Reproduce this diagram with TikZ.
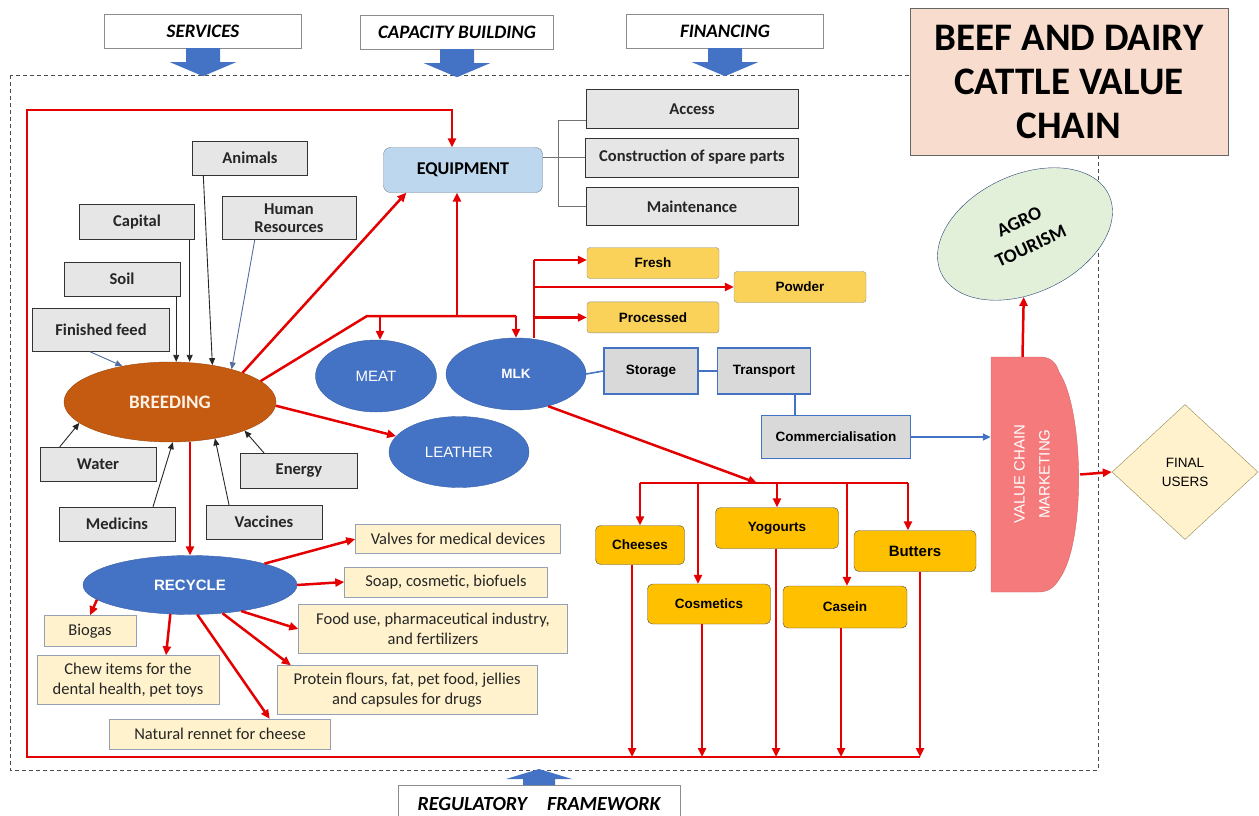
\documentclass[tikz,border=0pt]{standalone}
\usepackage{fontspec}
\setmainfont{Carlito}
\newfontfamily\arialfont{Liberation Sans}
\usetikzlibrary{arrows.meta,positioning,shapes.geometric,calc}

\definecolor{flowred}{RGB}{228,0,0}
\definecolor{ellblue}{RGB}{68,114,196}
\definecolor{breedbrown}{RGB}{197,90,17}
\definecolor{inputgray}{RGB}{231,230,230}
\definecolor{paleyellow}{RGB}{255,242,204}
\definecolor{recborder}{RGB}{150,160,180}
\definecolor{dairygold}{RGB}{255,192,0}
\definecolor{milkgold}{RGB}{250,210,90}
\definecolor{titlepink}{RGB}{248,221,207}
\definecolor{vcmred}{RGB}{244,122,124}
\definecolor{agrogreen}{RGB}{226,239,217}
\definecolor{equipblue}{RGB}{189,215,238}
\definecolor{feedblue}{RGB}{84,110,160}

\begin{document}
\begin{tikzpicture}[x=1pt, y=-1pt,
  hdr/.style={draw=black!45, fill=white, minimum width=197, minimum height=34,
    inner sep=0pt, font=\fontsize{19}{21}\selectfont\bfseries\itshape},
  inbox/.style={draw=black!80, fill=inputgray, minimum height=34, inner sep=1pt,
    align=center, text=black!85, font=\fontsize{16.5}{18}\selectfont\bfseries},
  recbox/.style={draw=recborder, fill=paleyellow, inner sep=1pt, align=center,
    text=black!85, font=\fontsize{16.5}{19.5}\selectfont},
  milkprod/.style={draw=black!45, fill=milkgold, rounded corners=3pt,
    minimum width=132, minimum height=31, inner sep=1pt,
    font=\arialfont\fontsize{13.5}{16}\selectfont\bfseries},
  dairy/.style={draw=black!70, fill=dairygold, rounded corners=5pt, inner sep=1pt,
    font=\arialfont\fontsize{13.5}{16}\selectfont\bfseries},
  chainbox/.style={draw=ellblue, line width=1.6pt, fill=black!15, minimum height=46,
    inner sep=1pt, font=\arialfont\fontsize{13.5}{16}\selectfont\bfseries},
  blob/.style={ellipse, fill=ellblue, draw=ellblue!85!black, inner sep=0pt,
    text=white, font=\arialfont\fontsize{15}{18}\selectfont},
  flow/.style={draw=flowred, line width=2.5pt, -{Triangle[length=9pt,width=8pt]}},
  flowline/.style={draw=flowred, line width=2.5pt},
  feed/.style={draw=black!85, line width=0.9pt, -{Triangle[length=7pt,width=6pt]}},
  feedb/.style={feed, draw=feedblue},
  bracket/.style={draw=black!55, line width=0.8pt},
  chain/.style={draw=ellblue, line width=1.6pt},
  frame/.style={draw=black!70, line width=0.8pt, dash pattern=on 4pt off 3pt}
]
\useasboundingbox (0,0) rectangle (1259,816);

% outer frame and support headers
\draw[frame] (10,75) rectangle (1098,770);
\node[hdr] (services) at (203,31) {SERVICES};
\node[hdr, minimum width=193] (capacity) at (457,32) {CAPACITY BUILDING};
\node[hdr] (financing) at (725,31) {FINANCING};
\foreach \hd in {services,capacity,financing}
  \fill[ellblue] ($(\hd.south)+(-17,0)$) -- ++(0,14) -- ++(-16,0)
    -- ($(\hd.south)+(0,28)$) -- ($(\hd.south)+(33,14)$) -- ++(-16,0)
    -- ($(\hd.south)+(17,0)$) -- cycle;

\node[hdr, minimum width=282, minimum height=38, anchor=north,
  font=\fontsize{20}{22}\selectfont\bfseries\itshape] (regulatory) at (539,785)
  {REGULATORY\quad FRAMEWORK};
\fill[ellblue] ($(regulatory.north)+(-16,0)$) -- ++(0,-6) -- ++(-17,0)
  -- ($(regulatory.north)+(0,-16)$) -- ($(regulatory.north)+(33,-6)$) -- ++(-17,0)
  -- ($(regulatory.north)+(16,0)$) -- cycle;

\node[draw=black!60, fill=titlepink, minimum width=318, minimum height=147, align=center,
  font=\fontsize{39}{44}\selectfont\bfseries] (title) at (1069,81.5)
  {BEEF AND DAIRY\\CATTLE VALUE\\CHAIN};

% inputs of breeding
\node[inbox, minimum width=115] (animals) at (250,158) {Animals};
\node[inbox, minimum width=115, minimum height=35] (capital) at (137,222) {Capital};
\node[inbox, minimum width=134, minimum height=43] (humanres) at (289,218) {Human\\Resources};
\node[inbox, minimum width=116] (soil) at (122,279) {Soil};
\node[inbox, minimum width=137, minimum height=43] (feedbox) at (101,330) {Finished feed};
\node[inbox, minimum width=116] (water) at (98,464) {Water};
\node[inbox, minimum width=116] (medicins) at (117,524) {Medicins};
\node[inbox, minimum width=116] (vaccines) at (264,522) {Vaccines};
\node[inbox, minimum width=117, minimum height=35] (energy) at (299,471) {Energy};

\node[ellipse, fill=breedbrown, draw=breedbrown!80!black, minimum width=212,
  minimum height=80, inner sep=0pt, text=orange!10,
  font=\fontsize{19}{22}\selectfont\bfseries] (breeding) at (170,402) {BREEDING};

% equipment
\node[draw=black!40!equipblue, fill=equipblue, rounded corners=7pt, minimum width=159,
  minimum height=45, font=\fontsize{18}{20}\selectfont\bfseries] (equip) at (463,170) {EQUIPMENT};
\node[inbox, minimum width=212, minimum height=39] (access) at (692,109) {Access};
\node[inbox, minimum width=213, minimum height=39, below=9pt of access] (constr) {Construction of spare parts};
\node[inbox, minimum width=212, minimum height=38, below=10pt of constr] (maint) {Maintenance};

% products
\node[blob, minimum width=121, minimum height=72] (meat) at (376,376) {MEAT};
\node[blob, minimum width=140, minimum height=72,
  font=\arialfont\fontsize{13.5}{16}\selectfont\bfseries] (mlk) at (516,374) {MLK};
\node[blob, minimum width=140, minimum height=71] (leather) at (459,452) {LEATHER};

\node[milkprod] (fresh) at (653,263) {Fresh};
\node[milkprod] (powder) at (800,287) {Powder};
\node[milkprod, below=23pt of fresh] (processed) {Processed};

\node[chainbox, minimum width=94] (storage) at (651,371) {Storage};
\node[chainbox, minimum width=93, right=18pt of storage] (transport) {Transport};
\node[chainbox, minimum width=149, minimum height=43] (comm) at (836,437) {Commercialisation};

\node[dairy, minimum width=89, minimum height=39] (cheeses) at (640,545) {Cheeses};
\node[dairy, minimum width=123, minimum height=41] (yogourts) at (777,528) {Yogourts};
\node[dairy, minimum width=122, minimum height=41,
  font=\arialfont\fontsize{15}{18}\selectfont\bfseries] (butters) at (915,551) {Butters};
\node[dairy, minimum width=123, minimum height=40] (cosmetics) at (709,604) {Cosmetics};
\node[dairy, minimum width=124, minimum height=42] (casein) at (845,607) {Casein};

% recycling
\node[blob, minimum width=214, minimum height=59,
  font=\arialfont\fontsize{15}{18}\selectfont\bfseries] (recycle) at (190,585) {RECYCLE};
\node[recbox, minimum width=205, minimum height=29] (valves) at (458,539) {Valves for medical devices};
\node[recbox, minimum width=203, minimum height=30] (soap) at (446,582) {Soap, cosmetic, biofuels};
\node[recbox, minimum width=269, minimum height=49] (fooduse) at (433,629)
  {Food use, pharmaceutical industry,\\and fertilizers};
\node[recbox, minimum width=260, minimum height=49] (protein) at (407,690)
  {Protein flours, fat, pet food, jellies\\and capsules for drugs};
\node[recbox, minimum width=221, minimum height=30] (rennet) at (220,734) {Natural rennet for cheese};
\node[recbox, minimum width=92, minimum height=31] (biogas) at (90,631) {Biogas};
\node[recbox, minimum width=182, minimum height=49] (chew) at (128,680)
  {Chew items for the\\dental health, pet toys};

% marketing and end users
\node[minimum width=89, minimum height=235, inner sep=0pt] (vcm) at (1035.5,474.5) {};
\filldraw[fill=vcmred, draw=vcmred!85!black, line width=0.4pt]
  (991,592) -- (991,357) -- (1040,357) .. controls (1050,357) and (1056,362) .. (1059,372)
  .. controls (1084,410) and (1086,540) .. (1060,578)
  .. controls (1054,588) and (1048,592) .. (1038,592) -- cycle;
\node[rotate=90, align=center, text=white, font=\arialfont\fontsize{15}{25}\selectfont]
  (vcmtext) at (1032,474) {VALUE CHAIN\\MARKETING};
\node[ellipse, rotate=25, draw=ellblue!60!black, fill=agrogreen, minimum width=185,
  minimum height=118, inner sep=0pt, align=center,
  font=\fontsize{19}{27}\selectfont\bfseries] (agro) at (1025,234) {AGRO\\TOURISM};
\node[diamond, draw=black!45!olive!70, fill=paleyellow, minimum width=146, minimum height=135,
  inner sep=0pt, align=center, font=\arialfont\fontsize{13.5}{19}\selectfont] (final)
  at (1185,472) {FINAL\\USERS};

% inputs
\draw[feed] ([xshift=11pt]animals.south west) -- (breeding.41);
\draw[feed] ([xshift=-5pt]capital.south east) -- ([xshift=-5pt]capital.south east |- breeding.north);
\draw[feed] ([xshift=-4pt]soil.south east) -- ([xshift=-4pt]soil.south east |- breeding.north);
\draw[feedb] ([xshift=33pt]humanres.south west) -- (breeding.28);
\draw[feedb] ([xshift=-11pt]feedbox.south) -- (breeding.143);
\draw[feed] ([xshift=20pt]water.north west) -- (breeding.-167);
\draw[feed] ([xshift=36pt]medicins.north) -- (breeding.-86);
\draw[feed] ([xshift=-35pt]vaccines.north) -- (breeding.-39);
\draw[feed] ([xshift=24pt]energy.north west) -- (breeding.-21);

% equipment parts
\draw[bracket] ([yshift=-11pt]access.west) -| ([xshift=-27pt]maint.west) -- (maint.west);
\draw[bracket] (equip.east |- constr.west) -- (constr.west);

% red flows
\coordinate (meatjoin) at (367,316);
\draw[flow] (breeding.22) -- ([xshift=23pt]equip.south west);
\draw[flowline] (breeding.13) -- (meatjoin) -- (mlk.north |- meatjoin);
\draw[flow] ([xshift=4pt]meat.north |- meatjoin) -- ([xshift=4pt]meat.north);
\draw[flow] (mlk.north |- meatjoin) -- (mlk.north);
\draw[flow] ([xshift=-6pt]equip.south |- meatjoin) -- ([xshift=-6pt]equip.south);
\draw[flow] (breeding.-2) -- (leather);
\draw[flow] (recycle.north |- breeding.south) -- (recycle.north);

\coordinate (milkup) at (534,260);
\draw[flowline] ([xshift=18pt]mlk.north) -- (milkup);
\draw[flow] (milkup) -- (milkup -| fresh.west);
\draw[flow] (powder.west -| milkup) -- (powder.west);
\draw[flow] (processed.west -| milkup) -- (processed.west);

\coordinate (dairyhub) at (757,483);
\draw[flow] (mlk.-45) -- (dairyhub);
\draw[flowline] (cheeses.north |- dairyhub) -- ([xshift=-7pt]butters.north |- dairyhub);
\foreach \prod/\dx in {cheeses/0,cosmetics/-11,yogourts/0,casein/2,butters/-7}
  \draw[flow] ([xshift=\dx pt]\prod.north |- dairyhub) -- ([xshift=\dx pt]\prod.north);

\coordinate (loopsw) at (27,757);
\coordinate (loopnw) at (27,110);
\foreach \prod/\dx in {cheeses/-8,cosmetics/-7,yogourts/-1,casein/-4,butters/5}
  \draw[flow] ([xshift=\dx pt]\prod.south) -- ([xshift=\dx pt]\prod.south |- loopsw);
\draw[flow] ([xshift=5pt]butters.south |- loopsw) -- (loopsw) -- (loopnw)
  -| ([xshift=-11pt]equip.north);

\draw[flow] (recycle.16) -- (valves.west);
\draw[flow] (recycle.east) -- (soap.west);
\draw[flow] (recycle.-27) -- (fooduse.west);
\draw[flow] (recycle.-41) -- ([xshift=14pt]protein.north west);
\draw[flow] (recycle.-76) -- ([xshift=-61pt]rennet.north east);
\draw[flow] (recycle.-124) -- ([xshift=38pt]chew.north);
\draw[flow] (recycle.-171) -- (biogas.north);

% milk chain
\draw[chain] (mlk.east) -- (storage.west);
\draw[chain] (storage) -- (transport);
\draw[chain] ([xshift=31pt]transport.south) -- ([xshift=31pt]transport.south |- comm.north);
\draw[chain, -{Triangle[length=8pt,width=7pt]}] (comm.east) -- (comm.east -| vcm.west);

\draw[flow] ([xshift=-13pt]vcm.north) -- (agro);
\draw[flow] (vcm.east) -- (final.west);
\end{tikzpicture}
\end{document}
